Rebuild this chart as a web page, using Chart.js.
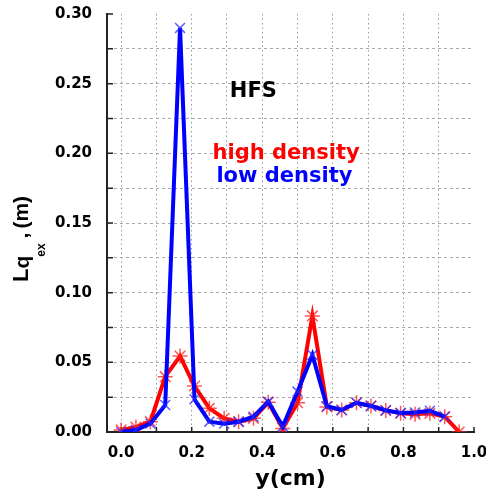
<!DOCTYPE html>
<html>
<head>
<meta charset="utf-8">
<script src="https://cdn.jsdelivr.net/npm/chart.js@4.4.0/dist/chart.umd.min.js"></script>
<style>
  html, body { margin: 0; padding: 0; background: #fff; }
</style>
</head>
<body>
<canvas id="lqChart" width="486" height="494"></canvas>
<script>
// positions across the profile (cm)
const yPositions = [0.000, 0.042, 0.083, 0.125, 0.167, 0.208, 0.250, 0.292, 0.333, 0.375, 0.417, 0.458,
                    0.500, 0.542, 0.583, 0.625, 0.667, 0.708, 0.750, 0.792, 0.833, 0.875, 0.917, 0.958];
// L_q_ex (m)
const highDensity = [0.0015, 0.0035, 0.0074, 0.0397, 0.0545, 0.0330, 0.0170, 0.0098, 0.0074, 0.0098, 0.0213, 0.0026,
                     0.0210, 0.0833, 0.0180, 0.0158, 0.0210, 0.0187, 0.0155, 0.0134, 0.0127, 0.0134, 0.0110, 0.0000];
const lowDensity  = [0.0000, 0.0014, 0.0060, 0.0194, 0.2900, 0.0235, 0.0074, 0.0060, 0.0074, 0.0110, 0.0218, 0.0040,
                     0.0290, 0.0553, 0.0185, 0.0158, 0.0210, 0.0187, 0.0155, 0.0136, 0.0140, 0.0153, 0.0110, null];
const xTickLabels = ['0.0', '0.2', '0.4', '0.6', '0.8', '1.0'];
const yTickLabels = ['0.00', '0.05', '0.10', '0.15', '0.20', '0.25', '0.30'];

const tickFont = { family: 'DejaVu Sans', size: 15, weight: 'bold' };

// tick marks pointing into the plot
const innerTicks = {
  id: 'innerTicks',
  beforeDatasetsDraw(chart) {
    const { ctx, chartArea: a, scales: { x, y } } = chart;
    ctx.save();
    ctx.strokeStyle = '#222';
    ctx.lineWidth = 1.5;
    ctx.beginPath();
    x.ticks.forEach(t => {
      const px = x.getPixelForValue(t.value);
      ctx.moveTo(px, a.bottom);
      ctx.lineTo(px, a.bottom - 5);
    });
    y.ticks.forEach(t => {
      const py = y.getPixelForValue(t.value);
      ctx.moveTo(a.left, py);
      ctx.lineTo(a.left + 6, py);
    });
    ctx.stroke();
    ctx.restore();
  }
};

// HFS / legend texts inside the plot
const notes = [
  { text: 'HFS', x: 0.308, y: 0.244, color: '#000' },
  { text: 'high density', x: 0.259, y: 0.200, color: '#ff0000' },
  { text: 'low density', x: 0.270, y: 0.183, color: '#0000ff' }
];
const plotNotes = {
  id: 'plotNotes',
  afterDatasetsDraw(chart) {
    const { ctx, scales: { x, y } } = chart;
    ctx.save();
    ctx.textBaseline = 'middle';
    ctx.textAlign = 'left';
    notes.forEach(n => {
      ctx.font = 'bold 21px "DejaVu Sans"';
      ctx.fillStyle = n.color;
      ctx.fillText(n.text, x.getPixelForValue(n.x), y.getPixelForValue(n.y));
    });
    ctx.restore();
  }
};

// rotated y title: L_{q_ex} ,(m)
const yTitle = {
  id: 'yTitle',
  afterDraw(chart) {
    const ctx = chart.ctx;
    ctx.save();
    ctx.translate(28, 282);
    ctx.rotate(-Math.PI / 2);
    ctx.fillStyle = '#000';
    ctx.textBaseline = 'alphabetic';
    ctx.textAlign = 'left';
    let pos = 0;
    const piece = (txt, size, shift, gap) => {
      ctx.font = 'bold ' + size + 'px "Liberation Sans"';
      pos += gap || 0;
      ctx.fillText(txt, pos, shift);
      pos += ctx.measureText(txt).width;
    };
    piece('L', 22, 0);
    piece('q', 21, 1);
    piece('ex', 12, 17, -1);
    piece(',', 21, 0, 5);
    piece('(m)', 21, 0, 4);
    ctx.restore();
  }
};

const ctx = document.getElementById('lqChart').getContext('2d');
const chart = new Chart(ctx, {
  type: 'line',
  data: {
    datasets: [
      {
        label: 'low density',
        data: yPositions.map((x, i) => ({ x: x, y: lowDensity[i] })),
        borderColor: '#0000ff',
        borderWidth: 4,
        pointStyle: 'crossRot',
        pointRadius: 7,
        pointBorderColor: 'rgba(40,40,255,0.75)',
        pointBorderWidth: 1.5,
        pointBackgroundColor: 'rgba(0,0,0,0)',
        tension: 0,
        spanGaps: false
      },
      {
        label: 'high density',
        data: yPositions.map((x, i) => ({ x: x, y: highDensity[i] })),
        borderColor: '#ff0000',
        borderWidth: 4,
        pointStyle: 'star',
        pointRadius: 7.5,
        pointBorderColor: 'rgba(255,30,30,0.75)',
        pointBorderWidth: 1.5,
        pointBackgroundColor: 'rgba(0,0,0,0)',
        tension: 0
      }
    ]
  },
  options: {
    responsive: false,
    animation: false,
    layout: { padding: { left: 55, right: 12, top: 14, bottom: 2 } },
    plugins: {
      legend: { display: false },
      tooltip: { enabled: false }
    },
    scales: {
      x: {
        type: 'linear',
        min: -0.04,
        max: 1.0,
        afterFit: s => { s.paddingLeft = 0; s.paddingRight = 0; s.height = 60; },
        ticks: {
          stepSize: 0.1,
          includeBounds: false,
          autoSkip: false,
          maxRotation: 0,
          padding: 12,
          color: '#000',
          font: tickFont,
          callback: v => {
            const r = Math.round(v * 10);
            if (Math.abs(v * 10 - r) > 1e-6 || r % 2 !== 0) return '';
            return xTickLabels[r / 2] || '';
          }
        },
        grid: {
          drawTicks: false,
          lineWidth: 1,
          color: c => (c.tick && c.tick.value > 0.999) ? 'rgba(0,0,0,0)' : '#9a9a9a'
        },
        border: { display: true, color: '#222', width: 2, dash: [1.5, 3] },
        title: {
          display: true,
          text: 'y(cm)',
          color: '#000',
          font: { family: 'DejaVu Sans', size: 22, weight: 'bold' },
          padding: { top: 2, bottom: 0 }
        }
      },
      y: {
        min: 0,
        max: 0.3,
        afterFit: s => { s.paddingTop = 0; s.paddingBottom = 0; s.width = 52; },
        ticks: {
          stepSize: 0.025,
          autoSkip: false,
          padding: 15,
          color: '#000',
          font: tickFont,
          callback: v => {
            const r = Math.round(v / 0.05);
            return Math.abs(v / 0.05 - r) < 1e-6 ? (yTickLabels[r] || '') : '';
          }
        },
        grid: {
          drawTicks: false,
          lineWidth: 1,
          color: c => (c.tick && c.tick.value > 0.299) ? 'rgba(0,0,0,0)' : '#a8a8a8'
        },
        border: { display: true, color: '#222', width: 2, dash: [3, 3] }
      }
    }
  },
  plugins: [innerTicks, plotNotes, yTitle]
});
</script>
</body>
</html>
